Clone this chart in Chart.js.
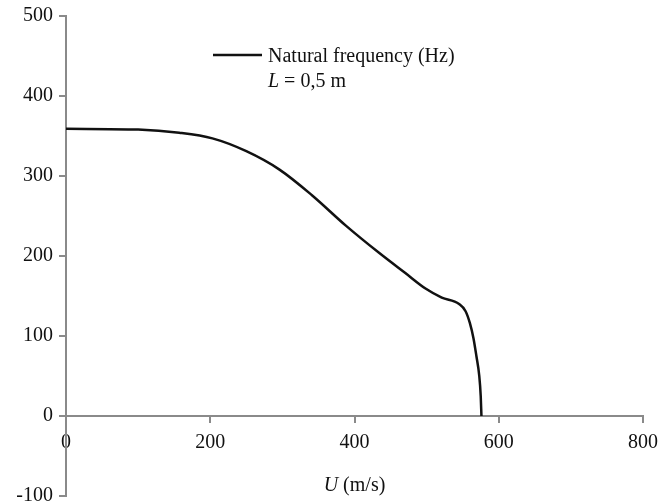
<!DOCTYPE html>
<html>
<head>
<meta charset="utf-8">
<script src="https://cdn.jsdelivr.net/npm/chart.js@4/dist/chart.umd.min.js"></script>
<style>
  body { margin: 0; background: #fff; }
  canvas { display: block; }
</style>
</head>
<body>
<canvas id="freqChart" width="667" height="504"></canvas>
<script>
// flow velocity U (m/s) vs natural frequency (Hz), L = 0,5 m
const uValues = [0, 100, 157, 203, 250, 296, 341, 388, 434, 470, 499, 521, 545, 554, 560, 565, 569, 573, 575, 576];
const freqValues = [359, 358, 354, 347, 331, 308, 276, 238, 204, 179, 159, 148, 140, 131, 116, 97, 75, 50, 25, 0];
const xTicks = [0, 200, 400, 600, 800];
const yTicks = [-100, 0, 100, 200, 300, 400, 500];

const seriesLabel = 'Natural frequency (Hz)';
const serif = '"Liberation Serif", "Times New Roman", serif';
const axisGray = '#8a8a8a';

// legend box + axis title drawn by hand (mixed italic text)
const annotations = {
    id: 'annotations',
    afterDraw(chart) {
        const c = chart.ctx;
        const area = chart.chartArea;
        c.save();
        c.strokeStyle = '#111';
        c.lineWidth = 2.5;
        c.beginPath();
        c.moveTo(213, 55);
        c.lineTo(262, 55);
        c.stroke();

        c.fillStyle = '#111';
        c.textBaseline = 'middle';
        c.textAlign = 'left';
        c.font = '20px ' + serif;
        c.fillText(seriesLabel, 268, 57);

        c.font = 'italic 20px ' + serif;
        c.fillText('L', 268, 82);
        let w = c.measureText('L').width;
        c.font = '20px ' + serif;
        c.fillText(' = 0,5 m', 268 + w, 82);

        // x axis title
        const mid = (area.left + area.right) / 2;
        c.font = 'italic 20px ' + serif;
        const uw = c.measureText('U').width;
        c.font = '20px ' + serif;
        const rest = ' (m/s)';
        const rw = c.measureText(rest).width;
        const start = mid - (uw + rw) / 2;
        c.font = 'italic 20px ' + serif;
        c.fillText('U', start, 486);
        c.font = '20px ' + serif;
        c.fillText(rest, start + uw, 486);
        c.restore();
    }
};

new Chart(document.getElementById('freqChart'), {
    type: 'scatter',
    data: {
        datasets: [{
            label: seriesLabel,
            data: uValues.map((u, i) => ({ x: u, y: freqValues[i] })),
            showLine: true,
            borderColor: '#111',
            borderWidth: 2.5,
            pointRadius: 0,
            cubicInterpolationMode: 'monotone',
            fill: false
        }]
    },
    options: {
        responsive: false,
        devicePixelRatio: 1,
        animation: false,
        layout: {
            padding: { top: 16, right: 19, bottom: 8, left: 0 }
        },
        plugins: {
            legend: { display: false },
            tooltip: { enabled: false }
        },
        scales: {
            x: {
                type: 'linear',
                position: { y: 0 },
                min: 0,
                max: 800,
                afterBuildTicks: (axis) => { axis.ticks = xTicks.map(v => ({ value: v })); },
                grid: {
                    drawOnChartArea: false,
                    color: axisGray,
                    lineWidth: 2,
                    tickLength: 6
                },
                border: { color: axisGray, width: 2 },
                ticks: {
                    color: '#111',
                    padding: 9,
                    font: { family: serif, size: 20 }
                }
            },
            y: {
                type: 'linear',
                min: -100,
                max: 500,
                afterBuildTicks: (axis) => { axis.ticks = yTicks.map(v => ({ value: v })); },
                afterFit: (axis) => {
                    axis.width = 66;
                    axis.paddingTop = 0;
                    axis.paddingBottom = 0;
                },
                grid: {
                    drawOnChartArea: false,
                    color: axisGray,
                    lineWidth: 2,
                    tickLength: 7
                },
                border: { color: axisGray, width: 2 },
                ticks: {
                    color: '#111',
                    padding: 6,
                    font: { family: serif, size: 20 }
                }
            }
        }
    },
    plugins: [annotations]
});
</script>
</body>
</html>
